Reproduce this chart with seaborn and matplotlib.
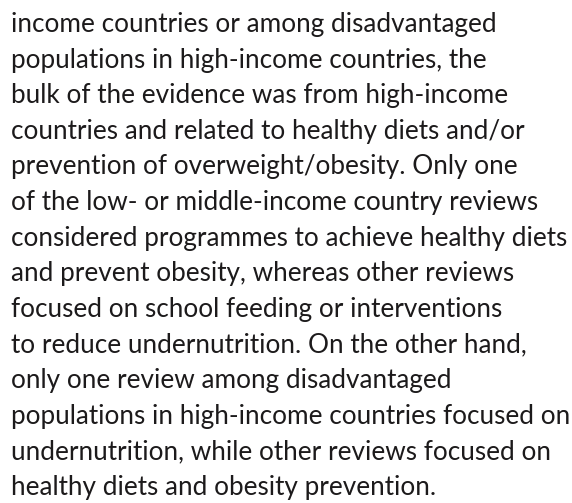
import matplotlib
matplotlib.use("Agg")
import matplotlib.pyplot as plt
import seaborn as sns

lines = [
    "income countries or among disadvantaged",
    "populations in high-income countries, the",
    "bulk of the evidence was from high-income",
    "countries and related to healthy diets and/or",
    "prevention of overweight/obesity. Only one",
    "of the low- or middle-income country reviews",
    "considered programmes to achieve healthy diets",
    "and prevent obesity, whereas other reviews",
    "focused on school feeding or interventions",
    "to reduce undernutrition. On the other hand,",
    "only one review among disadvantaged",
    "populations in high-income countries focused on",
    "undernutrition, while other reviews focused on",
    "healthy diets and obesity prevention.",
]

sns.set_theme(style="white")
plt.rcParams['font.family'] = ['Lato', 'DejaVu Sans']

W, H, DPI = 572, 503, 100
fig = plt.figure(figsize=(W / DPI, H / DPI), dpi=DPI)
fig.patch.set_facecolor("white")

left_px = 11
first_base = 32
step = 35.6
target_right = 567

fs = 18
texts = []
for i, s in enumerate(lines):
    y = H - (first_base + i * step)
    t = fig.text(left_px / W, y / H, s, fontsize=fs, color="#1c1a1b",
                 ha="left", va="baseline")
    texts.append(t)

fig.canvas.draw()
r = fig.canvas.get_renderer()
maxw = max(t.get_window_extent(r).width for t in texts)
scale = (target_right - left_px) / maxw
for t in texts:
    t.set_fontsize(fs * scale)

fig.savefig("out.png", dpi=DPI, facecolor="white")
